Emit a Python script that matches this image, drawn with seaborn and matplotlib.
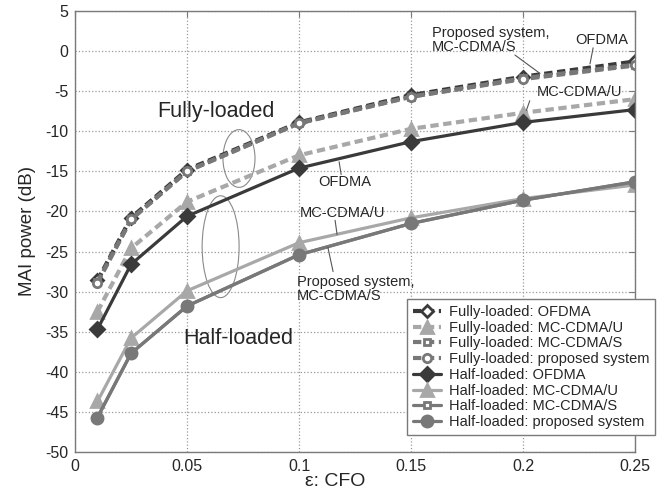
import pandas as pd
import matplotlib.pyplot as plt
import seaborn as sns
from matplotlib.patches import Ellipse

# --- data ---
cfo = [0.01, 0.025, 0.05, 0.1, 0.15, 0.2, 0.25]

full_ofdma = [-28.6, -20.8, -14.8, -8.9, -5.5, -3.2, -1.3]
full_mc_u = [-32.5, -24.6, -18.8, -13.0, -9.7, -7.7, -6.0]
full_mc_s = [-28.8, -21.0, -15.0, -9.0, -5.7, -3.4, -1.7]
full_prop = [-28.9, -21.0, -15.0, -9.0, -5.7, -3.5, -1.8]

half_ofdma = [-34.7, -26.6, -20.6, -14.6, -11.3, -8.9, -7.3]
half_mc_u = [-43.7, -35.8, -29.9, -23.9, -20.8, -18.4, -16.7]
half_mc_s = [-45.7, -37.7, -31.8, -25.4, -21.5, -18.6, -16.3]
half_prop = [-45.7, -37.7, -31.8, -25.4, -21.5, -18.6, -16.3]

DARK = '#3a3a3a'
MID = '#787878'
LIGHT = '#a8a8a8'
DASH = (0, (2.0, 1.1))

# label, values, colour, linestyle, marker, face, size
series = [
    ('Fully-loaded: OFDMA', full_ofdma, DARK, DASH, 'D', 'white', 6, 3.0),
    ('Fully-loaded: MC-CDMA/U', full_mc_u, LIGHT, DASH, '^', LIGHT, 8, 3.0),
    ('Fully-loaded: MC-CDMA/S', full_mc_s, MID, DASH, 's', 'white', 4, 3.0),
    ('Fully-loaded: proposed system', full_prop, MID, DASH, 'o', 'white', 6, 3.0),
    ('Half-loaded: OFDMA', half_ofdma, DARK, '-', 'D', DARK, 7, 2.3),
    ('Half-loaded: MC-CDMA/U', half_mc_u, LIGHT, '-', '^', LIGHT, 9, 2.3),
    ('Half-loaded: MC-CDMA/S', half_mc_s, MID, '-', 's', 'white', 4, 2.3),
    ('Half-loaded: proposed system', half_prop, MID, '-', 'o', MID, 8, 2.3),
]

sns.set_style("whitegrid", {"grid.linestyle": ":", "grid.color": "#9a9a9a",
                            "axes.edgecolor": "#7a7a7a"})
plt.rcParams['font.family'] = ['Liberation Sans', 'DejaVu Sans']
plt.rcParams['axes.unicode_minus'] = False
plt.rcParams['grid.linewidth'] = 0.9

fig, ax = plt.subplots(figsize=(6.61, 4.97), dpi=100)
fig.subplots_adjust(left=0.1135, right=0.9607, top=0.978, bottom=0.0905)

for label, vals, col, ls, mk, face, ms, lw in series:
    df = pd.DataFrame({'cfo': cfo, 'mai': vals})
    sns.lineplot(data=df, x='cfo', y='mai', ax=ax, color=col, linestyle=ls,
                 linewidth=lw, marker=mk, markersize=ms, markerfacecolor=face,
                 markeredgecolor=col, markeredgewidth=2.0, errorbar=None,
                 label=label)

ax.set_xlim(0, 0.25)
ax.set_ylim(-50, 5)
ax.set_xticks([0, 0.05, 0.1, 0.15, 0.2, 0.25])
ax.set_xticklabels(['0', '0.05', '0.1', '0.15', '0.2', '0.25'])
ax.set_yticks(range(-50, 6, 5))
ax.tick_params(direction='in', top=True, right=True, length=4, color='#7a7a7a',
               labelsize=11.5, pad=5)
for sp in ax.spines.values():
    sp.set_linewidth(1.0)

ax.set_xlabel('ε: CFO', fontsize=14, labelpad=-1, x=0.464)
ax.set_ylabel('MAI power (dB)', fontsize=13.5, labelpad=6)

# group labels and ellipses
ax.text(0.0629, -7.5, 'Fully-loaded', fontsize=15.5, ha='center', va='center')
ax.text(0.0728, -35.9, 'Half-loaded', fontsize=15.5, ha='center', va='center')
ax.add_patch(Ellipse((0.0732, -13.4), 0.0143, 7.2, fill=False, ec='#8a8a8a', lw=0.8))
ax.add_patch(Ellipse((0.065, -24.4), 0.0165, 12.7, fill=False, ec='#8a8a8a', lw=0.8))

# curve annotations with leader lines
notes = [
    ('OFDMA', (0.1205, -16.3), 'center', (0.1179, -13.8), (0.1188, -15.4)),
    ('MC-CDMA/U', (0.1192, -20.2), 'center', (0.1161, -21.1), (0.1170, -22.9)),
    ('Proposed system,\nMC-CDMA/S', (0.0991, -29.7), 'left', (0.1129, -24.5), (0.1152, -27.5)),
    ('Proposed system,\nMC-CDMA/S', (0.1594, 1.4), 'left', (0.1964, -0.5), (0.2076, -2.8)),
    ('OFDMA', (0.2353, 1.4), 'center', (0.2313, 0.4), (0.2299, -1.6)),
    ('MC-CDMA/U', (0.2254, -5.1), 'center', (0.2030, -6.2), (0.2015, -7.4)),
]
for txt, pos, ha, p0, p1 in notes:
    ax.text(pos[0], pos[1], txt, fontsize=10.5, ha=ha, va='center', linespacing=1.0)
    ax.plot([p0[0], p1[0]], [p0[1], p1[1]], color='#555555', lw=0.8)

leg = ax.legend(loc='lower left', bbox_to_anchor=(0.593, 0.0385), borderaxespad=0,
                fontsize=10.5, frameon=True, fancybox=False, framealpha=1,
                edgecolor='#7a7a7a', labelspacing=0.12, handlelength=1.9,
                handletextpad=0.55, borderpad=0.4)
leg.get_frame().set_linewidth(1.0)

fig.savefig('out.png', dpi=100)
